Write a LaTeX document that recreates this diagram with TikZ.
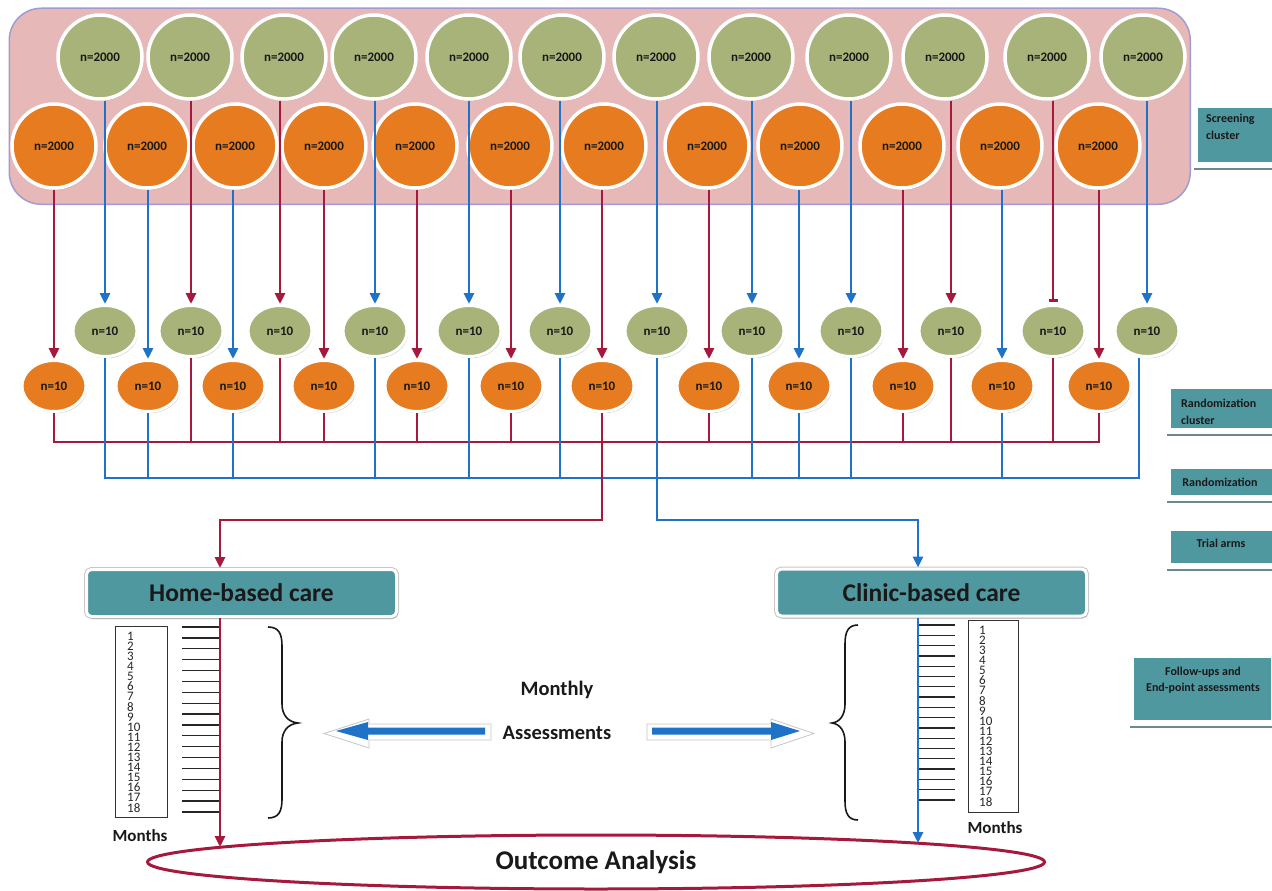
\documentclass[tikz,border=0pt]{standalone}
\usepackage{fontspec}
\setmainfont{Carlito}
\usetikzlibrary{shapes.geometric,arrows.meta,shadows,calc}
\definecolor{pinkbg}{RGB}{230,185,184}
\definecolor{lav}{RGB}{160,155,210}
\definecolor{grn}{RGB}{168,179,122}
\definecolor{org}{RGB}{230,123,32}
\definecolor{tealbx}{RGB}{80,152,160}
\definecolor{redc}{RGB}{165,25,60}
\definecolor{bluec}{RGB}{30,115,200}
\definecolor{txt}{RGB}{25,25,25}
\tikzset{
  bigc/.style={circle, draw=white, line width=3.5pt, minimum size=84pt, inner sep=0pt,
    font=\bfseries\fontsize{13}{15}\selectfont, text=txt,
    drop shadow={shadow xshift=1.2pt, shadow yshift=-1.8pt, opacity=0.35}},
  gbig/.style={bigc, fill=grn},
  obig/.style={bigc, fill=org},
  smallc/.style={ellipse, draw=white, line width=3pt, minimum width=64pt, minimum height=51pt, inner sep=0pt,
    font=\bfseries\fontsize{13}{15}\selectfont, text=txt,
    drop shadow={shadow xshift=1.2pt, shadow yshift=-1.8pt, opacity=0.35}},
  gsm/.style={smallc, fill=grn},
  osm/.style={smallc, fill=org},
  conn/.style={line width=2.8pt},
  tipa/.style={-{Triangle[width=10pt,length=11pt]}},
  carebox/.style={rectangle, rounded corners=5pt, fill=tealbx, draw=white, line width=3pt,
    preaction={draw=gray!45, line width=5pt},
    minimum width=310pt, minimum height=47pt, font=\bfseries\fontsize{25.5}{30}\selectfont, text=txt,
    drop shadow={shadow xshift=1.5pt, shadow yshift=-2.5pt, opacity=0.3}},
  labbox/.style={rectangle, fill=tealbx, draw=white, line width=1.2pt, inner sep=0pt, anchor=north west},
  labt/.style={font=\bfseries\fontsize{12}{17}\selectfont, text=txt, inner sep=0pt},
  shline/.style={draw=gray!60!tealbx, line width=2pt},
  numf/.style={font=\fontsize{13}{13}\selectfont, inner sep=0pt, text=black!85, anchor=west},
  numbox/.style={draw=black!80, line width=0.9pt, fill=white, inner sep=0pt, anchor=north west},
  tickl/.style={draw=black!85, line width=1.3pt},
  curlyb/.style={draw=black!90, line width=1.6pt},
  bevel/.style={fill=white, draw=gray!45, line width=0.8pt},
  bigtxt/.style={font=\bfseries\fontsize{20.5}{24}\selectfont, text=txt},
  monthsl/.style={font=\bfseries\fontsize{17}{20}\selectfont, text=txt}
}
\begin{document}
\begin{tikzpicture}[x=1pt,y=-1pt]
\useasboundingbox (0,0) rectangle (1272,891);

% screening container
\node[draw=lav, fill=pinkbg, line width=1.5pt, rounded corners=32pt, minimum width=1181pt,
  minimum height=196pt, inner sep=0pt, anchor=north west] (screen) at (8.5,7.5) {};

% top circles
\foreach \i/\x in {1/100,2/190,3/284,4/374,5/469,6/562,7/656,8/751,9/849,10/945,11/1047,12/1143}
  \node[gbig] (g\i) at (\x,57) {n=2000};
\foreach \i/\x in {1/54,2/147,3/235,4/324,5/415,6/510,7/604,8/707,9/800,10/902,11/1000,12/1098}
  \node[obig] (o\i) at (\x,146) {n=2000};

% small ellipses
\foreach \i/\x in {1/105,2/191,3/280,4/375,5/469,6/560,7/657,8/752,9/851,10/951,11/1053,12/1147}
  \node[gsm] (sg\i) at (\x,331) {n=10};
\foreach \i/\x in {1/54,2/148,3/233,4/324,5/417,6/511,7/602,8/709,9/799,10/903,11/1002,12/1099}
  \node[osm] (so\i) at (\x,386) {n=10};

% care boxes
\node[carebox] (home) at (241.5,593) {Home-based care};
\node[carebox] (clinic) at (931.5,592.5) {Clinic-based care};

% outcome
\node[ellipse, draw=redc, line width=3pt, fill=white, minimum width=897pt, minimum height=54pt,
  inner sep=0pt, font=\bfseries\fontsize{27}{32}\selectfont, text=txt] (outcome) at (596,862) {Outcome Analysis};

% helper coordinates
\coordinate (rb) at (0,442);
\coordinate (bb) at (0,478);
\coordinate (tr) at (0,520);
\coordinate (sg12b) at ([xshift=-8pt]sg12.south);
\coordinate (hN) at ([xshift=-21.5pt]home.north);
\coordinate (hS) at ([xshift=-21.5pt]home.south);
\coordinate (cN) at ([xshift=-13.5pt]clinic.north);
\coordinate (cS) at ([xshift=-13.5pt]clinic.south);
\coordinate (hend) at (220,847);
\coordinate (cend) at (918,843);

% top connectors
\foreach \i/\c in {1/bluec,2/redc,3/redc,4/bluec,5/bluec,6/bluec,7/bluec,8/bluec,9/bluec,10/redc,12/bluec}
  \draw[conn, draw=\c, tipa] (sg\i.north |- g\i.south) -- (sg\i.north);
\draw[conn, draw=redc, -{Bar[width=9pt]}] (sg11.north |- g11.south) -- ([yshift=2pt]sg11.north);
\foreach \i/\c in {1/redc,2/bluec,3/bluec,4/redc,5/redc,6/redc,7/redc,8/redc,9/bluec,10/redc,11/bluec,12/redc}
  \draw[conn, draw=\c, tipa] (so\i.north |- o\i.south) -- (so\i.north);

% red bus
\draw[conn, draw=redc] (so1.south) -- (so1.south |- rb) -- (so12.south |- rb) -- (so12.south);
\foreach \n in {sg2,sg3,so4,so5,so6,so8,so10,sg10,sg11}
  \draw[conn, draw=redc] (\n.south) -- (\n.south |- rb);
% blue bus
\draw[conn, draw=bluec] (sg1.south) -- (sg1.south |- bb) -- (sg12b |- bb) -- (sg12b);
\foreach \n in {so2,so3,sg4,sg5,sg6,sg8,so9,sg9,so11}
  \draw[conn, draw=bluec] (\n.south) -- (\n.south |- bb);

% to trial arms
\draw[conn, draw=redc, tipa] (so7.south) -- (so7.south |- tr) -| (hN);
\draw[conn, draw=bluec, tipa] (sg7.south) -- (sg7.south |- tr) -| (cN);

% ticks
\foreach \k in {0,...,17}
  \draw[tickl] (182,{627+\k*10.88}) -- (220,{627+\k*10.88});
\foreach \k in {0,...,17}
  \draw[tickl] (918,{625+\k*10.29}) -- (955,{625+\k*10.29});

% follow-up lines
\draw[conn, draw=redc, tipa] (hS) -- (hend);
\draw[conn, draw=bluec, tipa] (cS) -- (cend);

% month boxes
\node[numbox, minimum width=52pt, minimum height=191pt] (lbox) at (115,626) {};
\foreach \k in {1,...,18}
  \node[numf] (ln\k) at (127,{636+(\k-1)*10.1}) {\k};
\node[numbox, minimum width=50pt, minimum height=192pt] (rbox) at (968,620) {};
\foreach \k in {1,...,18}
  \node[numf] (rn\k) at (979,{630+(\k-1)*10.1}) {\k};
\node[monthsl] (lmonths) at (140,836) {Months};
\node[monthsl] (rmonths) at (995,828) {Months};

% braces
\draw[curlyb] (268,627) .. controls (279,627) and (282,634) .. (282,646) -- (282,704)
  .. controls (282,715) and (288,722) .. (298,723) .. controls (288,724) and (282,731) .. (282,742)
  -- (282,799) .. controls (282,811) and (279,818) .. (268,818);
\draw[curlyb] (858,625) .. controls (848,625) and (845,632) .. (845,644) -- (845,704)
  .. controls (845,715) and (840,722) .. (832,723) .. controls (840,724) and (845,731) .. (845,742)
  -- (845,801) .. controls (845,813) and (848,820) .. (858,820);

% block arrows
\draw[bevel] (324,733.5) -- (369,719) -- (369,724) -- (491,724) -- (491,740) -- (369,740) -- (369,748) -- cycle;
\fill[bluec] (336,731) -- (368,722) -- (368,727.5) -- (485,727.5) -- (485,734.5) -- (368,734.5) -- (368,740) -- cycle;
\draw[bevel] (814,733.5) -- (771,719) -- (771,724) -- (647,724) -- (647,740) -- (771,740) -- (771,748) -- cycle;
\fill[bluec] (800,731) -- (771,722) -- (771,727.5) -- (652,727.5) -- (652,734.5) -- (771,734.5) -- (771,740) -- cycle;

\node[bigtxt] (monthly) at (557,690) {Monthly};
\node[bigtxt] (assess) at (557,733) {Assessments};

% right-hand labels
\node[labbox, minimum width=75pt, minimum height=55pt] (lab1) at (1197,107) {};
\draw[shline] ([xshift=-3pt,yshift=-6pt]lab1.south west) -- ([yshift=-6pt]lab1.south east);
\node[labt, align=left, anchor=west] (lab1t) at (1206,127) {Screening\\cluster};

\node[labbox, minimum width=102pt, minimum height=40pt] (lab2) at (1170,388) {};
\draw[shline] ([xshift=-3pt,yshift=-6pt]lab2.south west) -- ([yshift=-6pt]lab2.south east);
\node[labt, align=left, anchor=west] (lab2t) at (1181,411.5) {Randomization\\cluster};

\node[labbox, minimum width=102pt, minimum height=27pt] (lab3) at (1170,468) {};
\draw[shline] ([xshift=-3pt,yshift=-6pt]lab3.south west) -- ([yshift=-6pt]lab3.south east);
\node[labt] (lab3t) at (1220,482) {Randomization};

\node[labbox, minimum width=102pt, minimum height=33pt] (lab4) at (1170,530) {};
\draw[shline] ([xshift=-3pt,yshift=-6pt]lab4.south west) -- ([yshift=-6pt]lab4.south east);
\node[labt] (lab4t) at (1221,543) {Trial arms};

\node[labbox, minimum width=138pt, minimum height=63pt] (lab5) at (1133,657) {};
\draw[shline] ([xshift=-3pt,yshift=-6pt]lab5.south west) -- ([yshift=-6pt]lab5.south east);
\node[labt, align=center, font=\bfseries\fontsize{12}{16}\selectfont] (lab5t) at (1203,680) {Follow-ups and\\End-point assessments};
\end{tikzpicture}
\end{document}
